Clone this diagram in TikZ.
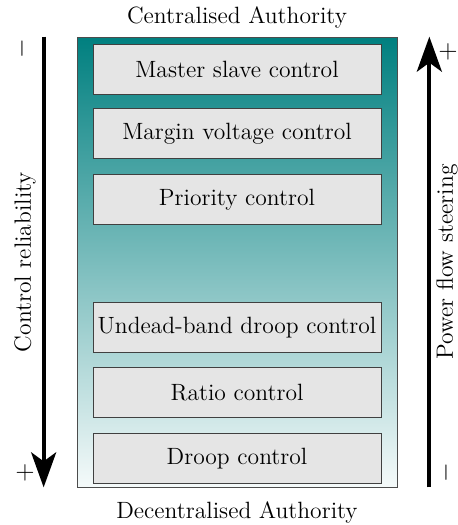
\documentclass[tikz,border=0pt]{standalone}
\usepackage{amsmath}
\usepackage{tikz}
\usepackage{xcolor}
\usetikzlibrary{positioning,arrows.meta}
\tikzset{
    frame-box/.style = {draw=black!70, thin, rectangle, minimum width=6.4cm, minimum height=9cm, top color=teal, bottom color=teal!4},
    control-box/.style = {draw=black!75, fill=gray!20, thin, rectangle, minimum width=5.76cm, minimum height=1cm, inner sep=1pt},
    axis-arrow/.style = {line width=2.3pt, -{Stealth[length=0.7cm, width=0.5cm, inset=0.18cm]}},
    axis-label/.style = {rotate=90, inner sep=0pt},
}

\begin{document}
\begin{tikzpicture}[font=\fontsize{13.4}{15}\selectfont]
\useasboundingbox (0,0) rectangle (9.14,-10.5);
\node [frame-box] (frame) at (4.74,-5.24) {};
\node [control-box, below=0.14cm] (master) at (frame.north) {Master slave control};
\node [control-box, below=0.28cm of master] (margin) {Margin voltage control};
\node [control-box, below=0.3cm of margin] (priority) {Priority control};
\node [control-box, below=1.54cm of priority] (undead) {Undead-band droop control};
\node [control-box, below=0.3cm of undead] (ratio) {Ratio control};
\node [control-box, below=0.3cm of ratio] (droop) {Droop control};

\node (central) at (4.74,-0.35) {Centralised Authority};
\node (decentral) at (4.74,-10.24) {Decentralised Authority};

% reliability axis
\coordinate [left=0.66cm of frame.north west] (rel-top);
\coordinate [left=0.66cm of frame.south west] (rel-bottom);
\draw [axis-arrow] (rel-top) -- (rel-bottom);
\node [axis-label] (reliability) at (0.5,-5.24) {Control reliability};
\node [axis-label] (rel-minus) at (0.44,-0.98) {$-$};
\node [axis-label] (rel-plus) at (0.5,-9.46) {$+$};

% power flow axis
\coordinate [right=0.64cm of frame.south east] (flow-bottom);
\coordinate [right=0.64cm of frame.north east] (flow-top);
\draw [axis-arrow] (flow-bottom) -- (flow-top);
\node [axis-label] (steering) at (8.94,-5.24) {Power flow steering};
\node [axis-label] (flow-plus) at (8.96,-1.04) {$+$};
\node [axis-label] (flow-minus) at (8.92,-9.46) {$-$};
\end{tikzpicture}
\end{document}
